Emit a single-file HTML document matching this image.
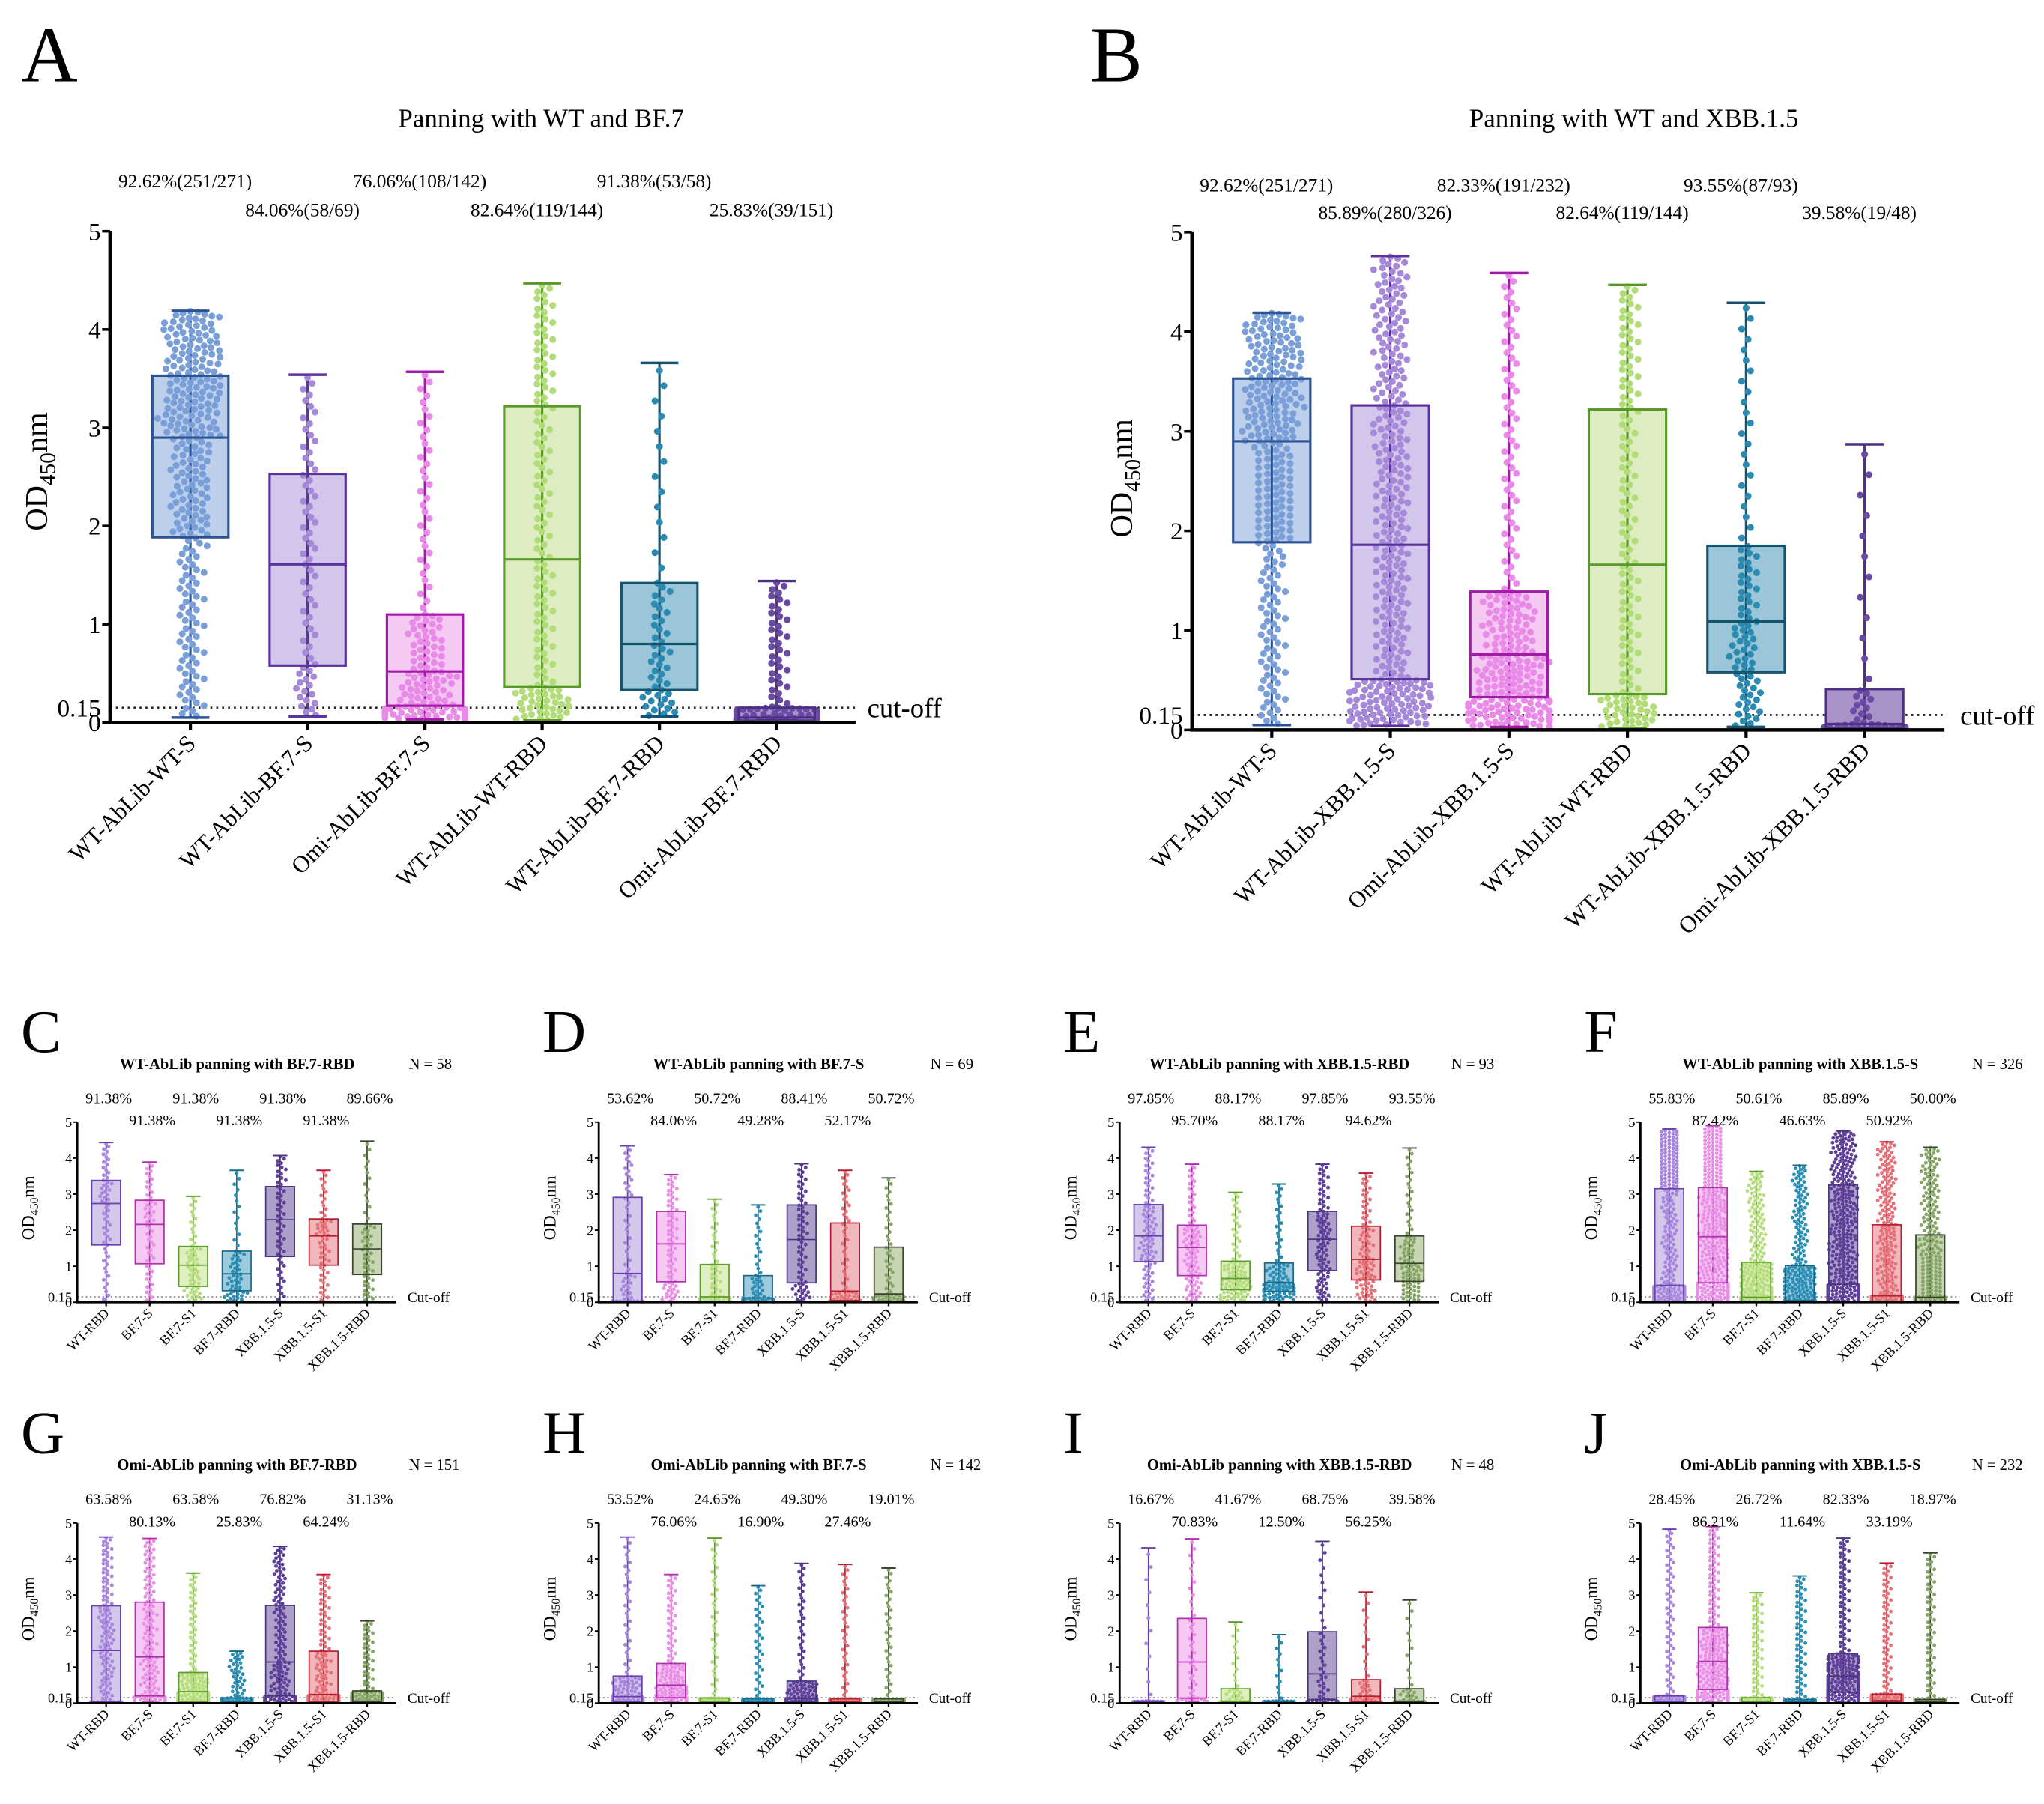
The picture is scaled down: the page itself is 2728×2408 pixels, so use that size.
<!DOCTYPE html>
<html><head><meta charset="utf-8"><title>Panning OD450 boxplots</title>
<style>
html,body{margin:0;padding:0;background:#fff;}
svg{display:block;font-family:"Liberation Serif",serif;}
</style></head>
<body>
<svg id="fig" xmlns="http://www.w3.org/2000/svg" width="2728" height="2408" viewBox="0 0 1560 1377" preserveAspectRatio="none"></svg>
<script>
// ---------- Panel A data ----------
const A_cats = ["WT-AbLib-WT-S","WT-AbLib-BF.7-S","Omi-AbLib-BF.7-S","WT-AbLib-WT-RBD","WT-AbLib-BF.7-RBD","Omi-AbLib-BF.7-RBD"];
const A_max = [4.19,3.54,3.57,4.47,3.66,1.44];
const A_q3  = [3.53,2.53,1.10,3.22,1.42,0.15];
const A_med = [2.90,1.61,0.52,1.66,0.80,0.05];
const A_q1  = [1.885,0.58,0.17,0.36,0.33,0.02];
const A_min = [0.05,0.06,0.03,0.02,0.06,0.02];
const A_n   = [271,69,142,144,58,151];
const A_pct = ["92.62%(251/271)","84.06%(58/69)","76.06%(108/142)","82.64%(119/144)","91.38%(53/58)","25.83%(39/151)"];
// ---------- Panel B data ----------
const B_cats = ["WT-AbLib-WT-S","WT-AbLib-XBB.1.5-S","Omi-AbLib-XBB.1.5-S","WT-AbLib-WT-RBD","WT-AbLib-XBB.1.5-RBD","Omi-AbLib-XBB.1.5-RBD"];
const B_max = [4.19,4.76,4.59,4.47,4.29,2.87];
const B_q3  = [3.53,3.26,1.39,3.22,1.85,0.41];
const B_med = [2.90,1.86,0.76,1.66,1.09,0.06];
const B_q1  = [1.885,0.51,0.33,0.36,0.58,0.02];
const B_min = [0.05,0.04,0.03,0.02,0.03,0.02];
const B_n   = [271,326,232,144,93,48];
const B_pct = ["92.62%(251/271)","85.89%(280/326)","82.33%(191/232)","82.64%(119/144)","93.55%(87/93)","39.58%(19/48)"];
// ---------- Small panels shared categories ----------
const S_cats = ["WT-RBD","BF.7-S","BF.7-S1","BF.7-RBD","XBB.1.5-S","XBB.1.5-S1","XBB.1.5-RBD"];
// C
const C_max=[4.43,3.89,2.94,3.66,4.07,3.66,4.47];
const C_q3 =[3.38,2.83,1.55,1.42,3.21,2.31,2.17];
const C_med=[2.74,2.16,1.03,0.79,2.29,1.84,1.48];
const C_q1 =[1.59,1.07,0.44,0.32,1.27,1.03,0.77];
const C_min=[0.03,0.03,0.03,0.03,0.03,0.03,0.03];
const C_pct=["91.38%","91.38%","91.38%","91.38%","91.38%","91.38%","89.66%"];
// D
const D_max=[4.34,3.54,2.86,2.70,3.84,3.66,3.45];
const D_q3 =[2.91,2.52,1.05,0.74,2.70,2.20,1.53];
const D_med=[0.80,1.62,0.15,0.12,1.74,0.31,0.23];
const D_q1 =[0.03,0.57,0.02,0.02,0.54,0.05,0.03];
const D_min=[0.02,0.03,0.02,0.02,0.03,0.02,0.02];
const D_pct=["53.62%","84.06%","50.72%","49.28%","88.41%","52.17%","50.72%"];
// E
const E_max=[4.30,3.83,3.05,3.28,3.83,3.58,4.28];
const E_q3 =[2.71,2.14,1.14,1.09,2.52,2.11,1.84];
const E_med=[1.84,1.52,0.66,0.55,1.75,1.19,1.08];
const E_q1 =[1.13,0.74,0.35,0.30,0.88,0.62,0.58];
const E_min=[0.03,0.03,0.02,0.02,0.03,0.02,0.02];
const E_pct=["97.85%","95.70%","88.17%","88.17%","97.85%","94.62%","93.55%"];
// F
const F_max=[4.81,4.90,3.63,3.80,4.75,4.45,4.30];
const F_q3 =[3.15,3.18,1.11,1.02,3.25,2.15,1.87];
const F_med=[0.47,1.82,0.14,0.05,1.87,0.18,0.14];
const F_q1 =[0.03,0.54,0.03,0.02,0.50,0.03,0.03];
const F_min=[0.02,0.02,0.02,0.02,0.02,0.02,0.02];
const F_pct=["55.83%","87.42%","50.61%","46.63%","85.89%","50.92%","50.00%"];
// G
const G_max=[4.61,4.57,3.61,1.44,4.35,3.57,2.28];
const G_q3 =[2.70,2.80,0.85,0.14,2.71,1.44,0.34];
const G_med=[1.46,1.28,0.32,0.04,1.14,0.24,0.04];
const G_q1 =[0.03,0.20,0.03,0.02,0.20,0.03,0.02];
const G_min=[0.02,0.02,0.02,0.02,0.02,0.02,0.02];
const G_pct=["63.58%","80.13%","63.58%","25.83%","76.82%","64.24%","31.13%"];
// H
const H_max=[4.61,3.57,4.58,3.26,3.88,3.85,3.75];
const H_q3 =[0.75,1.10,0.14,0.12,0.61,0.12,0.12];
const H_med=[0.18,0.50,0.05,0.04,0.13,0.04,0.04];
const H_q1 =[0.03,0.15,0.02,0.02,0.03,0.02,0.02];
const H_min=[0.02,0.02,0.02,0.02,0.02,0.02,0.02];
const H_pct=["53.52%","76.06%","24.65%","16.90%","49.30%","27.46%","19.01%"];
// I
const I_max=[4.31,4.56,2.25,1.90,4.49,3.08,2.86];
const I_q3 =[0.06,2.35,0.40,0.06,1.98,0.65,0.40];
const I_med=[0.03,1.14,0.05,0.03,0.81,0.19,0.05];
const I_q1 =[0.02,0.14,0.02,0.02,0.10,0.03,0.02];
const I_min=[0.02,0.02,0.02,0.02,0.02,0.02,0.02];
const I_pct=["16.67%","70.83%","41.67%","12.50%","68.75%","56.25%","39.58%"];
// J
const J_max=[4.83,4.90,3.06,3.53,4.58,3.89,4.17];
const J_q3 =[0.20,2.10,0.15,0.10,1.38,0.25,0.10];
const J_med=[0.05,1.16,0.05,0.04,0.75,0.07,0.04];
const J_q1 =[0.02,0.38,0.02,0.02,0.30,0.03,0.02];
const J_min=[0.02,0.02,0.02,0.02,0.02,0.02,0.02];
const J_pct=["28.45%","86.21%","26.72%","11.64%","82.33%","33.19%","18.97%"];

const NS = "http://www.w3.org/2000/svg";
const svg = document.getElementById("fig");
function mk(tag, parent, attrs){const e=document.createElementNS(NS,tag);for(const k in attrs)e.setAttribute(k,attrs[k]);parent.appendChild(e);return e;}

const bigPal = {
  blue:["#bccfeb","#2c5494","#7a9fd8"], purple:["#d2c6ea","#5a33a0","#a68ad9"],
  magenta:["#f4c9f2","#a21aa8","#ea8ae8"], green:["#ddedc1","#579a28","#b2dc78"],
  teal:["#9ac6d8","#15546f","#2a8ab2"], dpurple:["#a893c8","#4d2f85","#6a4aa5"]
};
const smallPal = [["#d3c7ea","#6a40b0","#a787dd"],["#f6c8f3","#b030b0","#e990e6"],["#e0efc0","#5e9c2e","#b5dd7d"],
  ["#9cc9dc","#1a6a8a","#2a8eb5"],["#ada0c8","#4b3585","#5e3f9a"],["#f0b8bc","#b52030","#e57078"],["#c7d5b5","#3a4430","#85a565"]];

function quant(p, mn, q1, md, q3, mx){
  const ks=[0,.25,.5,.75,1], vs=[mn,q1,md,q3,mx];
  for(let k=0;k<4;k++){ if(p<=ks[k+1]){const t=(p-ks[k])/(ks[k+1]-ks[k]);return vs[k]+t*(vs[k+1]-vs[k]);} }
  return mx;
}
// beeswarm placement with a small alternating start offset
function swarm(ys, r, maxOff){
  const placed=[], out=[];
  const d=2*r*0.95;
  const starts=[0, r*1.3, -r*1.3, r*0.6, -r*0.6];
  for(let q=0;q<ys.length;q++){
    const yy=ys[q];
    const base=starts[q%starts.length];
    let best=null;
    for(let s=0;s<60;s++){
      const off = base + ((s===0)?0:((s%2===1)?1:-1)*Math.ceil(s/2)*r*0.9);
      let ok=true;
      for(let j=placed.length-1;j>=0;j--){
        const p=placed[j];
        if(Math.abs(p[1]-yy)>=d) { if(yy-p[1]>d*3) break; continue; }
        const dx=p[0]-off, dy=p[1]-yy;
        if(dx*dx+dy*dy<d*d){ok=false;break;}
      }
      if(ok){best=off;break;}
    }
    if(best===null) best=base;
    best=Math.max(-maxOff,Math.min(maxOff,best));
    placed.push([best,yy]); out.push(best);
  }
  return out;
}

function drawPanel(g, P){
  const y = v => P.y0 - v*P.unit;
  const xc = i => P.cat0 + i*P.step;
  for(let t=0;t<=5;t++){
    const tk=mk("line",g,{x1:P.ax-P.tk,x2:P.ax,y1:y(t),y2:y(t),stroke:"#000","stroke-width":P.lw});
    
    
    const tl=mk("text",g,{x:P.ax-P.tk-1,y:y(t)+P.tf*0.35,"text-anchor":"end","font-size":P.tf});
    
    
    tl.textContent=String(t);
  }
  const cl=mk("text",g,{x:P.ax-P.tk-1,y:y(0.15)+P.tf*0.35,"text-anchor":"end","font-size":P.tf});
  
  
  cl.textContent="0.15";
  const co=mk("line",g,{x1:P.ax,x2:P.xEnd,y1:y(0.15),y2:y(0.15),stroke:P.coColor,"stroke-width":P.coW,"stroke-dasharray":P.coDash});
  
  
  const ct=mk("text",g,{x:P.coX,y:y(0.15)+P.cf*0.35,"font-size":P.cf});
  
  
  ct.textContent=P.coText;
  for(let i=0;i<P.cats.length;i++){
    const [fill,stroke,pt]=P.pal[i];
    const cx=xc(i), hw=P.bw/2;
    const bx=mk("rect",g,{x:cx-hw,y:y(P.q3[i]),width:P.bw,height:Math.max(0.5,y(P.q1[i])-y(P.q3[i])),fill:fill,stroke:"none"});
    
    
    const wk=mk("line",g,{x1:cx,x2:cx,y1:y(P.max[i]),y2:y(P.min[i]),stroke:stroke,"stroke-width":P.lw*0.9});
    
    
    const n=P.n[i];
    const ys=[];
    for(let k=0;k<n;k++) ys.push(y(quant((k+0.5)/n,P.min[i],P.q1[i],P.med[i],P.q3[i],P.max[i])));
    ys.reverse();
    const offs=swarm(ys,P.pr,hw*1.05);
    for(let k=0;k<n;k++){
      const c=mk("circle",g,{cx:cx+offs[k],cy:ys[k],r:P.pr,fill:pt});
      
      
    }
    const cap=mk("line",g,{x1:cx-hw*0.5,x2:cx+hw*0.5,y1:y(P.max[i]),y2:y(P.max[i]),stroke:stroke,"stroke-width":P.lw});
    
    
    const cap2=mk("line",g,{x1:cx-hw*0.5,x2:cx+hw*0.5,y1:y(P.min[i]),y2:y(P.min[i]),stroke:stroke,"stroke-width":P.lw});
    
    
    const bo=mk("rect",g,{x:cx-hw,y:y(P.q3[i]),width:P.bw,height:Math.max(0.5,y(P.q1[i])-y(P.q3[i])),fill:"none",stroke:stroke,"stroke-width":P.lw*0.9});
    
    
    const md=mk("line",g,{x1:cx-hw,x2:cx+hw,y1:y(P.med[i]),y2:y(P.med[i]),stroke:stroke,"stroke-width":P.lw*0.9});
    
    
    const xt=mk("line",g,{x1:cx,x2:cx,y1:P.y0,y2:P.y0+P.tk,stroke:"#000","stroke-width":P.lw*1.2});
    
    
    const lx=cx+P.lo, ly=P.y0+P.lyo;
    const xl=mk("text",g,{x:lx,y:ly,"text-anchor":"end","font-size":P.xf,transform:"rotate(-45 "+lx+" "+ly+")"});
    
    
    xl.textContent=P.cats[i];
    const pl=mk("text",g,{x:cx+P.po,y:(i%2===0)?P.r1:P.r2,"text-anchor":"middle","font-size":P.pf});
    
    
    pl.textContent=P.pct[i];
  }
  const ya=mk("line",g,{x1:P.ax,x2:P.ax,y1:y(5),y2:P.y0,stroke:"#000","stroke-width":P.aw});
  
  
  const xa=mk("line",g,{x1:P.ax-P.aw/2,x2:P.xEnd,y1:P.y0,y2:P.y0,stroke:"#000","stroke-width":P.aw});
  
  
  const yl=mk("text",g,{x:P.ylx,y:P.yly,"text-anchor":"middle","font-size":P.yf,transform:"rotate(-90 "+P.ylx+" "+P.yly+")"});
  
  
  yl.appendChild(document.createTextNode("OD"));
  const sub=mk("tspan",yl,{"font-size":P.yf*0.7,dy:P.yf*0.25});
  sub.textContent="450";
  const nm=mk("tspan",yl,{dy:-P.yf*0.25});
  nm.textContent="nm";
  const ti=mk("text",g,{x:P.tx,y:P.ty,"text-anchor":"middle","font-size":P.titf,"font-weight":P.titw});
  
  
  ti.textContent=P.title;
  if(P.nText){
    const nt=mk("text",g,{x:P.nx,y:P.ty,"font-size":P.titf});
    
    
    nt.textContent=P.nText;
  }
  const lt=mk("text",g,{x:P.lx,y:P.lyy,"font-size":P.lf});
  
  
  lt.textContent=P.letter;
}

function bigPanel(name, letter, title, cats, mx, q3, md, q1, mn, n, pct, geo, pal){
  const g=mk("g",svg,{});
  
  
  drawPanel(g, Object.assign({cats:cats,max:mx,q3:q3,med:md,q1:q1,min:mn,n:n,pct:pct,pal:pal,
    tk:6,lw:2,aw:2.6,tf:19,cf:21,xf:18,pf:14.5,yf:24,pr:2.6,coColor:"#222",coW:1.6,coDash:"1.5,3",
    coText:"cut-off",lo:5,lyo:17,po:-4,titf:20,titw:"normal",title:title,letter:letter,lf:60}, geo));
}
bigPanel("panel-a","A","Panning with WT and BF.7",A_cats,A_max,A_q3,A_med,A_q1,A_min,A_n,A_pct,
  {ax:84,y0:551.5,unit:75,xEnd:653,cat0:145.3,step:89.5,bw:58,coX:662,r1:143,r2:165,ylx:36,yly:360,tx:413,ty:97,lx:16,lyy:62},
  [bigPal.blue,bigPal.purple,bigPal.magenta,bigPal.green,bigPal.teal,bigPal.dpurple]);
bigPanel("panel-b","B","Panning with WT and XBB.1.5",B_cats,B_max,B_q3,B_med,B_q1,B_min,B_n,B_pct,
  {ax:909.7,y0:557.2,unit:76,xEnd:1484,cat0:970.6,step:90.5,bw:59,coX:1496,r1:146,r2:167,ylx:864,yly:365,tx:1247,ty:97,lx:832,lyy:62},
  [bigPal.blue,bigPal.purple,bigPal.magenta,bigPal.green,bigPal.teal,bigPal.dpurple]);

function smallPanel(name, letter, title, nText, nCount, mx, q3, md, q1, mn, pct, col, row){
  const dx=[0,398,795.5,1193][col], dy=[0,306][row];
  const g=mk("g",svg,{});
  
  
  drawPanel(g,{cats:S_cats,max:mx,q3:q3,med:md,q1:q1,min:mn,n:S_cats.map(()=>nCount),pct:pct,pal:smallPal,
    ax:59+dx,y0:994+dy,unit:27.5,xEnd:302.5+dx,cat0:81+dx,step:33.2,bw:22,tk:3,lw:1.1,aw:1.6,tf:10.5,cf:11,xf:10.5,pf:11.5,yf:13,
    pr:1.4,coColor:"#888",coW:1,coDash:"1.2,2",coText:"Cut-off",coX:311+dx,lo:3,lyo:9,po:2,r1:842+dy,r2:859+dy,
    ylx:26+dx,yly:922+dy,tx:181+dx,ty:816+dy,titf:11.8,titw:"bold",title:title,nText:nText,nx:312+dx,letter:letter,lf:46,lx:16+dx,lyy:803+dy});
}
smallPanel("panel-c","C","WT-AbLib panning with BF.7-RBD","N = 58",58,C_max,C_q3,C_med,C_q1,C_min,C_pct,0,0);
smallPanel("panel-d","D","WT-AbLib panning with BF.7-S","N = 69",69,D_max,D_q3,D_med,D_q1,D_min,D_pct,1,0);
smallPanel("panel-e","E","WT-AbLib panning with XBB.1.5-RBD","N = 93",93,E_max,E_q3,E_med,E_q1,E_min,E_pct,2,0);
smallPanel("panel-f","F","WT-AbLib panning with XBB.1.5-S","N = 326",326,F_max,F_q3,F_med,F_q1,F_min,F_pct,3,0);
smallPanel("panel-g","G","Omi-AbLib panning with BF.7-RBD","N = 151",151,G_max,G_q3,G_med,G_q1,G_min,G_pct,0,1);
smallPanel("panel-h","H","Omi-AbLib panning with BF.7-S","N = 142",142,H_max,H_q3,H_med,H_q1,H_min,H_pct,1,1);
smallPanel("panel-i","I","Omi-AbLib panning with XBB.1.5-RBD","N = 48",48,I_max,I_q3,I_med,I_q1,I_min,I_pct,2,1);
smallPanel("panel-j","J","Omi-AbLib panning with XBB.1.5-S","N = 232",232,J_max,J_q3,J_med,J_q1,J_min,J_pct,3,1);
</script>
</body></html>
